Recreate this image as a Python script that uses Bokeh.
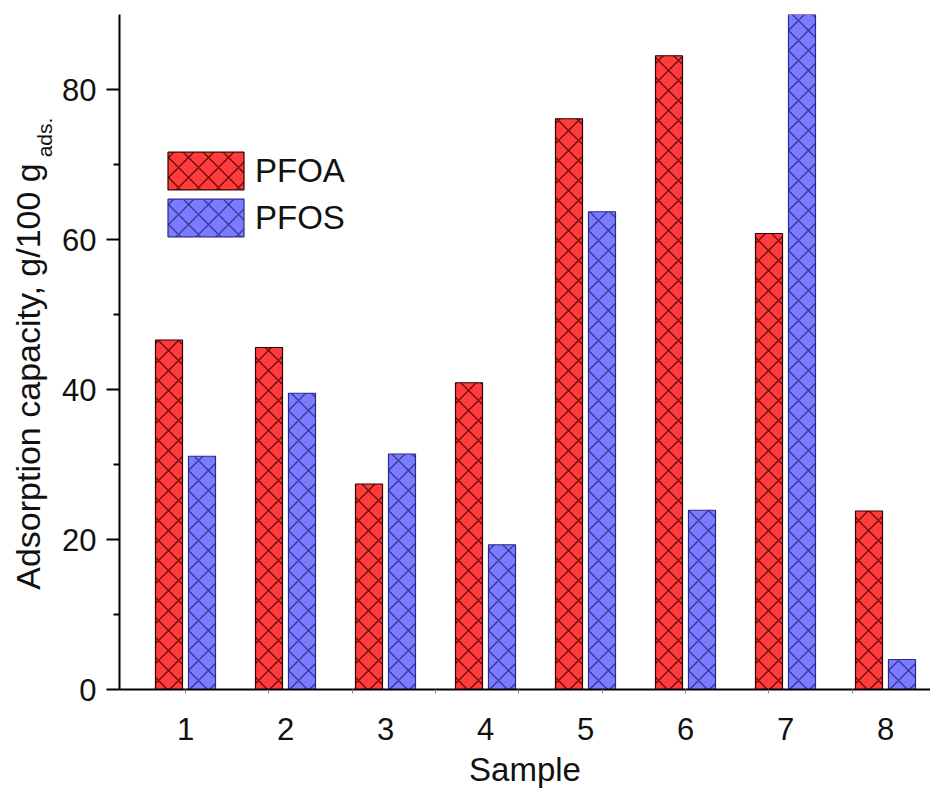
from bokeh.plotting import figure
from bokeh.models import Range1d, FixedTicker, Legend, LegendItem, ColumnDataSource
from bokeh.layouts import row
from bokeh.embed import file_html
from bokeh.resources import INLINE
from bokeh.transform import dodge
from bokeh.core.properties import value
import math

samples = [1, 2, 3, 4, 5, 6, 7, 8]
pfoa = [46.6, 45.6, 27.4, 40.9, 76.1, 84.5, 60.8, 23.8]
pfos = [31.1, 39.5, 31.4, 19.3, 63.7, 23.9, 90.0, 4.0]
yticks = [0, 20, 40, 60, 80]
series_names = ["PFOA", "PFOS"]
y_title = "Adsorption capacity, g/100 g"
y_title_sub = "ads."

FONT = "Liberation Sans"
H = 792
LW = 58  # width of the strip that holds the y-axis title
TOP, BOTTOM = 14, 689  # page pixel rows of the plot frame

src = ColumnDataSource(dict(x=samples, pfoa=pfoa, pfos=pfos))

p = figure(width=930 - LW, height=H, output_backend="svg", toolbar_location=None,
           x_range=Range1d(0.34, 8.45), y_range=Range1d(0, 90),
           min_border_left=119 - LW, min_border_right=0, min_border_top=TOP,
           min_border_bottom=H - BOTTOM - 0)
p.outline_line_color = None
p.grid.grid_line_color = None
p.background_fill_color = "white"

r1 = p.vbar(x=dodge("x", -0.165, range=p.x_range), top="pfoa", width=0.27, source=src,
            fill_color="#FF3B3B", line_color="#300000", line_width=1.2,
            hatch_pattern="diagonal_cross", hatch_color="#4a0000", hatch_alpha=0.85,
            hatch_scale=20, hatch_weight=1.3)
r2 = p.vbar(x=dodge("x", 0.165, range=p.x_range), top="pfos", width=0.27, source=src,
            fill_color="#7B7BFF", line_color="#2a2a8a", line_width=1.2,
            hatch_pattern="diagonal_cross", hatch_color="#1e1e70", hatch_alpha=0.75,
            hatch_scale=20, hatch_weight=1.3)

for ax in (p.xaxis[0], p.yaxis[0]):
    ax.axis_line_width = 2
    ax.axis_line_color = "black"
    ax.major_tick_line_width = 2
    ax.minor_tick_line_width = 2
    ax.major_label_text_font = FONT
    ax.major_label_text_font_size = "31px"
    ax.major_label_text_color = "#111111"
    ax.major_tick_in = 0
    ax.minor_tick_in = 0

p.yaxis.ticker = FixedTicker(ticks=yticks, minor_ticks=[10, 30, 50, 70])
p.yaxis.major_tick_out = 13
p.yaxis.minor_tick_out = 6
p.yaxis.major_label_standoff = 10
p.yaxis.axis_label = None

p.xaxis.ticker = FixedTicker(ticks=samples, minor_ticks=[1 + j * 5 / 6 for j in range(10)])
p.xaxis.major_tick_out = 0
p.xaxis.minor_tick_out = 4
p.xaxis.minor_tick_line_width = 1
p.xaxis.minor_tick_line_color = "#888888"
p.xaxis.major_label_standoff = 24
p.xaxis.axis_label = "Sample"
p.xaxis.axis_label_text_font = FONT
p.xaxis.axis_label_text_font_size = "33px"
p.xaxis.axis_label_text_font_style = "normal"
p.xaxis.axis_label_text_color = "#111111"
p.xaxis.axis_label_standoff = 8

legend = Legend(items=[LegendItem(label=series_names[0], renderers=[r1]),
                       LegendItem(label=series_names[1], renderers=[r2])],
                location=(39, 448), orientation="vertical")
legend.border_line_color = None
legend.background_fill_alpha = 0
legend.padding = 0
legend.margin = 0
legend.spacing = -3
legend.glyph_width = 95
legend.glyph_height = 47
legend.label_standoff = 2
legend.label_text_font = FONT
legend.label_text_font_size = "33px"
legend.label_text_color = "#111111"
legend.label_height = 47
p.add_layout(legend)

# strip on the left holding the rotated y-axis title; its frame is aligned with
# the main plot's frame, so its y range is given in page pixel rows
t = figure(width=LW, height=H, output_backend="svg", toolbar_location=None,
           x_range=Range1d(0, LW), y_range=Range1d(BOTTOM, TOP),
           x_axis_type=None, y_axis_type=None, min_border=0)
t.outline_line_color = None
t.grid.grid_line_color = None
t.text(x=[27], y=[376], text=[y_title], angle=math.pi / 2,
       text_font=value(FONT), text_font_size="34px", text_color="#111111",
       text_align="center", text_baseline="middle")
t.text(x=[44], y=[137], text=[y_title_sub], angle=math.pi / 2,
       text_font=value(FONT), text_font_size="21px", text_color="#111111",
       text_align="center", text_baseline="middle")

layout = row(t, p, spacing=0)
open("out.html", "w").write(file_html(layout, INLINE))
